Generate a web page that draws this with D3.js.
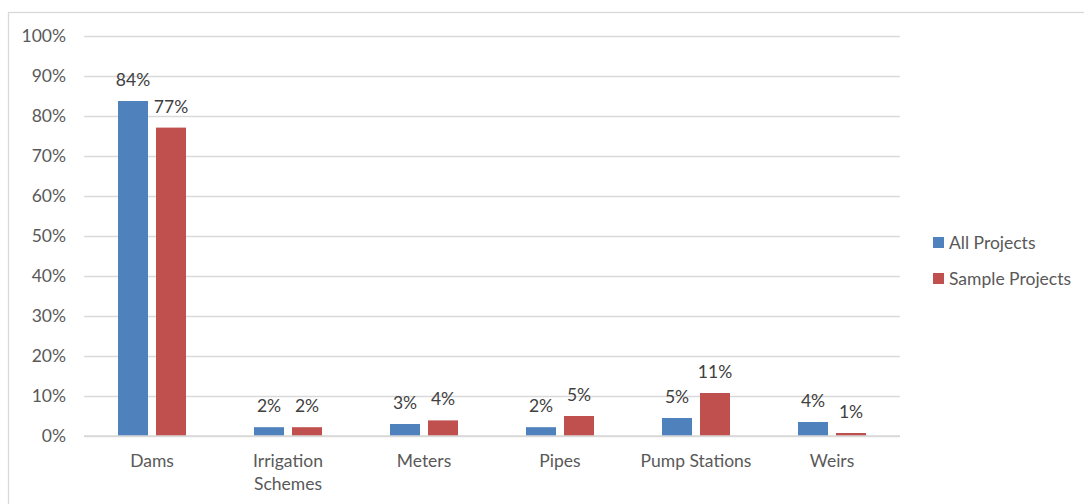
<!DOCTYPE html>
<html>
<head>
<meta charset="utf-8">
<script src="https://cdn.jsdelivr.net/npm/d3@7"></script>
<style>
  html, body { margin: 0; padding: 0; background: #fff; }
  svg { display: block; font-family: Lato, "Open Sans", sans-serif; }
</style>
</head>
<body>
<svg id="chart" width="1084" height="504"></svg>
<script>
// Share of projects by asset type
const categories = ["Dams", "Irrigation Schemes", "Meters", "Pipes", "Pump Stations", "Weirs"];
const seriesNames = ["All Projects", "Sample Projects"];
const allProjects = [83.75, 2.2, 3.0, 2.2, 4.5, 3.5];
const sampleProjects = [77.1, 2.2, 3.9, 5.0, 10.75, 0.75];
const yTicks = [0, 10, 20, 30, 40, 50, 60, 70, 80, 90, 100];
const colors = ["#4f81bd", "#c0504d"];

const FS = "17.5px";
const svg = d3.select("#chart");

// outer chart frame
svg.append("rect")
  .attr("x", 8.5).attr("y", 12.5)
  .attr("width", 1100).attr("height", 520)
  .attr("fill", "none").attr("stroke", "#d9d9d9").attr("stroke-width", 1.3);

const plot = { left: 84, right: 900, top: 36, bottom: 436 };

const x0 = d3.scaleBand().domain(categories).range([plot.left, plot.right]).paddingInner(0).paddingOuter(0);
const y = d3.scaleLinear().domain([0, 100]).range([plot.bottom, plot.top]);

// gridlines
svg.append("g")
  .attr("transform", `translate(${plot.left},0)`)
  .call(d3.axisLeft(y).tickValues(yTicks).tickSize(-(plot.right - plot.left)).tickFormat(""))
  .call(g => g.select(".domain").remove())
  .call(g => g.selectAll("line").attr("stroke", "#d9d9d9").attr("stroke-width", 1.3));

// y axis labels
svg.append("g")
  .attr("transform", `translate(${plot.left},0)`)
  .call(d3.axisLeft(y).tickValues(yTicks).tickSize(0).tickPadding(18).tickFormat(d => d + "%"))
  .call(g => g.select(".domain").remove())
  .call(g => g.selectAll("text").attr("fill", "#595959").style("font-size", FS).style("font-family", "Lato, sans-serif"));

const barW = 30, gap = 8;
const series = [allProjects, sampleProjects];

series.forEach((vals, si) => {
  const g = svg.append("g");
  const xOf = (i) => x0(categories[i]) + x0.bandwidth() / 2 + (si === 0 ? -gap / 2 - barW : gap / 2);
  g.selectAll("rect")
    .data(vals)
    .join("rect")
    .attr("x", (d, i) => xOf(i))
    .attr("y", d => y(d))
    .attr("width", barW)
    .attr("height", d => y(0) - y(d))
    .attr("fill", colors[si]);
  g.selectAll("text")
    .data(vals)
    .join("text")
    .attr("x", (d, i) => xOf(i) + barW / 2)
    .attr("y", d => y(d) - 15)
    .attr("text-anchor", "middle")
    .attr("fill", "#404040")
    .style("font-size", FS)
    .text(d => Math.round(d) + "%");
});

// baseline
svg.append("line")
  .attr("x1", plot.left).attr("x2", plot.right)
  .attr("y1", y(0)).attr("y2", y(0))
  .attr("stroke", "#d9d9d9").attr("stroke-width", 1.5);

// category labels (wrapped where needed)
const catLines = { "Irrigation Schemes": ["Irrigation", "Schemes"] };
const cat = svg.append("g");
categories.forEach(c => {
  const lines = catLines[c] || [c];
  const cx = x0(c) + x0.bandwidth() / 2;
  const t = cat.append("text")
    .attr("x", cx)
    .attr("y", 467)
    .attr("text-anchor", "middle")
    .attr("fill", "#595959")
    .style("font-size", FS);
  lines.forEach((l, k) => t.append("tspan").attr("x", cx).attr("dy", k === 0 ? 0 : 23).text(l));
});

// legend
const legend = svg.append("g");
seriesNames.forEach((name, i) => {
  const ly = 243 + i * 36;
  legend.append("rect").attr("x", 933).attr("y", ly - 6).attr("width", 11).attr("height", 11).attr("fill", colors[i]);
  legend.append("text").attr("x", 949).attr("y", ly + 6).attr("fill", "#595959").style("font-size", FS).text(name);
});
</script>
</body>
</html>
